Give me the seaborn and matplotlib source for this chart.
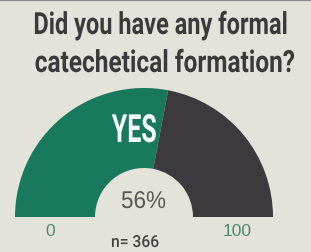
import matplotlib
matplotlib.use("Agg")
import matplotlib.pyplot as plt
from matplotlib import patheffects
from matplotlib.transforms import Affine2D
import seaborn as sns

# data
categories = ["YES", "NO"]
shares = [56, 44]
sample_size = 366
scale_labels = ["0", "100"]
title_lines = ["Did you have any formal", "catechetical formation?"]

BG = "#e3e3db"
GREEN = "#19795c"
DARK = "#3c3a3d"
TEXT = "#3a3a3a"


class Stretch(patheffects.AbstractPathEffect):
    """Rescale glyphs about their centre/baseline, standing in for a condensed face."""

    def __init__(self, sx, sy):
        super().__init__()
        self.sx, self.sy = sx, sy

    def draw_path(self, renderer, gc, tpath, affine, rgbFace=None):
        ext = tpath.get_extents(affine)
        x0 = (ext.x0 + ext.x1) / 2
        y0 = affine.transform((0, 0))[1]
        tr = Affine2D().translate(-x0, -y0).scale(self.sx, self.sy).translate(x0, y0)
        renderer.draw_path(gc, tpath, affine + tr, rgbFace)


sns.set_theme(style="white")
plt.rcParams["font.family"] = ["Roboto", "DejaVu Sans"]

W, H = 311, 253
fig = plt.figure(figsize=(W / 100, H / 100), dpi=100, facecolor=BG)
ax = fig.add_axes([0, 0, 1, 1])
ax.set_facecolor(BG)

cx, cy = 144, H - 218
r_out, r_in = 129, 49
values = shares + [sum(shares)]
ax.pie(
    values,
    colors=[GREEN, DARK, "none"],
    startangle=180,
    counterclock=False,
    radius=r_out,
    center=(cx, cy),
    wedgeprops=dict(width=r_out - r_in, linewidth=0),
    frame=True,
)
ax.set_xlim(0, W)
ax.set_ylim(0, H)
ax.set_aspect("equal")
ax.axis("off")

# top border line
ax.axhline(H - 0.8, color="#8a8a8a", lw=1.6)

renderer = fig.canvas.get_renderer()


def condensed(x, y_base, s, width, size, **kw):
    t = ax.text(x, H - y_base, s, ha="center", va="baseline", fontsize=size, **kw)
    w = t.get_window_extent(renderer).width
    # keep the undistorted text inside the figure, then stretch it back up
    room = 2 * (min(x, W - x) - 3)
    base = size * min(1.0, room / w)
    t.set_fontsize(base)
    w_base = w * base / size
    t.set_path_effects([Stretch(min(1.0, width / w_base) if base == size else width / w_base,
                                size / base)])
    return t


condensed(160, 35, title_lines[0], 254, 22, fontweight="bold", color=TEXT)
condensed(165, 73, title_lines[1], 260, 22, fontweight="bold", color=TEXT)
condensed(134.5, 143, categories[0], 45, 28, fontweight="bold", color="#f4fbf8")
condensed(143.5, 209, f"{shares[0]}%", 45, 17.5, color="#575757",
          family=["Liberation Sans", "DejaVu Sans"])
ax.text(50, H - 236, scale_labels[0], ha="center", va="baseline", fontsize=12.5,
        color="#4a8a73", family=["Liberation Sans", "DejaVu Sans"])
ax.text(237.5, H - 236, scale_labels[1], ha="center", va="baseline", fontsize=12.5,
        color="#4a8a73", family=["Liberation Sans", "DejaVu Sans"])
condensed(135, 248, f"n= {sample_size}", 48, 12, fontweight="medium", color="#444444")

fig.savefig("out.png", dpi=100, facecolor=BG)
